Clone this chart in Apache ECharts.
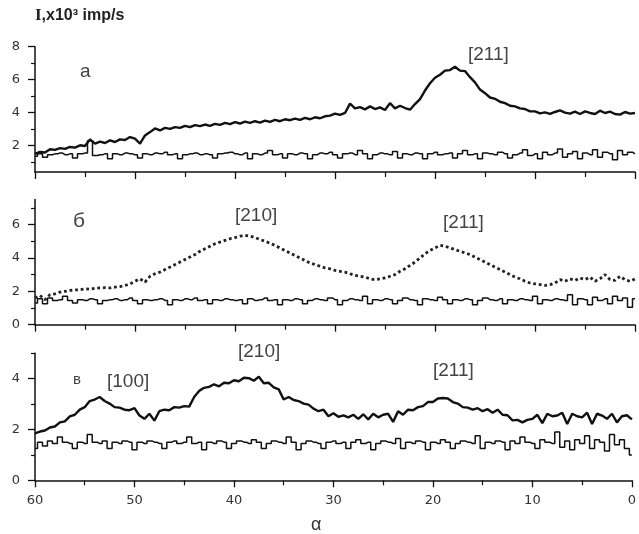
<!DOCTYPE html>
<html>
<head>
<meta charset="utf-8">
<script src="https://cdn.jsdelivr.net/npm/echarts@6/dist/echarts.min.js"></script>
<style>html,body{margin:0;padding:0;background:#fff}#c{width:639px;height:534px}</style>
</head>
<body>
<div id="c"></div>
<script>
// sampling grid of the scan angle alpha (degrees), 60 -> 0 in 0.5 steps
const alphaStart = 60, alphaStep = 0.5;

// panel a
const aTop = [
1.50,1.62,1.58,1.78,1.74,1.85,1.80,1.92,1.88,2.02,
1.98,2.38,2.12,2.24,2.16,2.32,2.22,2.38,2.34,2.52,
2.42,2.12,2.62,2.82,3.04,2.92,3.08,3.02,3.12,3.08,
3.20,3.12,3.24,3.18,3.28,3.20,3.32,3.26,3.38,3.30,
3.42,3.34,3.46,3.38,3.48,3.40,3.52,3.44,3.56,3.48,
3.60,3.54,3.64,3.56,3.68,3.60,3.72,3.66,3.78,3.82,
3.94,3.86,3.98,4.55,4.26,4.34,4.20,4.38,4.22,4.32,
4.16,4.58,4.26,4.42,4.28,4.18,4.52,4.82,5.34,5.78,
6.12,6.30,6.55,6.58,6.78,6.55,6.52,6.15,5.84,5.40,
5.18,4.92,4.84,4.66,4.58,4.42,4.38,4.26,4.22,4.08,
4.08,3.96,4.02,3.92,4.04,4.14,4.00,3.94,4.06,3.92,
4.08,3.98,3.92,4.12,3.98,4.06,3.92,3.88,4.04,3.94,
3.98];
const aBase = [
1.35,1.50,1.30,1.45,1.50,1.55,1.45,1.50,1.25,1.50,
1.55,2.30,1.40,1.45,1.50,1.20,1.50,1.45,1.55,1.50,
1.45,1.25,1.50,1.45,1.55,1.50,1.60,1.45,1.50,1.20,
1.45,1.50,1.55,1.45,1.50,1.45,1.25,1.50,1.55,1.60,
1.50,1.45,1.55,1.20,1.50,1.45,1.55,1.70,1.45,1.50,
1.25,1.50,1.45,1.55,1.50,1.20,1.45,1.55,1.50,1.60,
1.45,1.25,1.50,1.55,1.45,1.70,1.50,1.20,1.45,1.55,
1.50,1.45,1.65,1.25,1.50,1.45,1.55,1.50,1.20,1.50,
1.60,1.45,1.50,1.55,1.25,1.50,1.70,1.45,1.50,1.20,
1.55,1.50,1.45,1.60,1.50,1.25,1.45,1.55,1.75,1.40,
1.50,1.20,1.60,1.45,1.55,1.80,1.30,1.50,1.65,1.20,
1.55,1.45,1.75,1.30,1.60,1.50,1.15,1.70,1.45,1.60,
1.50];

// panel б
const bTop = [
1.60,1.75,1.50,1.80,1.85,1.95,2.00,2.05,2.08,2.10,
2.15,2.12,2.18,2.20,2.22,2.20,2.25,2.28,2.35,2.45,
2.60,2.75,2.55,2.90,3.05,3.15,3.30,3.45,3.60,3.75,
3.90,4.05,4.20,4.40,4.55,4.70,4.85,4.95,5.05,5.15,
5.22,5.30,5.35,5.30,5.22,5.10,5.00,4.88,4.75,4.60,
4.45,4.30,4.15,4.00,3.85,3.70,3.60,3.50,3.40,3.35,
3.25,3.20,3.15,3.05,2.95,2.90,2.85,2.75,2.70,2.75,
2.80,2.90,3.00,3.20,3.35,3.55,3.75,4.00,4.25,4.45,
4.60,4.75,4.70,4.60,4.50,4.40,4.30,4.20,4.05,3.90,
3.75,3.60,3.45,3.30,3.15,3.00,2.85,2.75,2.60,2.50,
2.45,2.40,2.35,2.40,2.50,2.70,2.60,2.75,2.65,2.80,
2.70,2.85,2.60,2.75,3.00,2.70,2.65,2.90,2.70,2.60,
2.75];
const bBase = [
1.30,1.55,1.25,1.60,1.45,1.50,1.70,1.45,1.30,1.50,
1.45,1.55,1.50,1.25,1.45,1.50,1.55,1.45,1.50,1.60,
1.45,1.25,1.50,1.45,1.50,1.55,1.45,1.20,1.50,1.45,
1.55,1.50,1.60,1.45,1.50,1.25,1.50,1.45,1.55,1.50,
1.45,1.50,1.25,1.55,1.45,1.50,1.60,1.45,1.50,1.20,
1.50,1.45,1.55,1.50,1.25,1.45,1.55,1.50,1.45,1.60,
1.50,1.20,1.45,1.55,1.50,1.45,1.70,1.25,1.50,1.45,
1.55,1.50,1.25,1.45,1.60,1.50,1.45,1.20,1.55,1.50,
1.45,1.65,1.50,1.25,1.50,1.45,1.55,1.50,1.20,1.45,
1.60,1.50,1.45,1.55,1.25,1.50,1.45,1.55,1.50,1.45,
1.70,1.25,1.50,1.45,1.55,1.50,1.45,1.80,1.20,1.55,
1.50,1.20,1.65,1.45,1.55,1.25,1.70,1.45,1.60,1.05,
1.55];

// panel в
const cTop = [
1.85,1.92,1.96,2.08,2.12,2.28,2.32,2.52,2.58,2.78,
2.88,3.12,3.18,3.28,3.12,3.02,2.88,2.86,2.78,2.76,
2.84,2.55,2.42,2.62,2.35,2.72,2.78,2.76,2.88,2.86,
2.92,2.90,3.28,3.52,3.64,3.68,3.78,3.70,3.84,3.82,
3.94,3.90,4.04,4.02,3.92,4.08,3.82,3.84,3.66,3.58,
3.18,3.28,3.16,3.12,3.02,2.98,2.82,2.72,2.78,2.52,
2.64,2.50,2.56,2.48,2.58,2.42,2.60,2.40,2.62,2.48,
2.58,2.62,2.30,2.72,2.58,2.78,2.76,2.88,2.92,3.08,
3.08,3.22,3.24,3.22,3.08,3.02,2.88,2.86,2.78,2.84,
2.72,2.80,2.66,2.78,2.58,2.56,2.36,2.38,2.28,2.38,
2.42,2.58,2.25,2.62,2.52,2.55,2.66,2.22,2.62,2.52,
2.48,2.66,2.22,2.62,2.55,2.42,2.62,2.28,2.52,2.56,
2.40];
const cBase = [
1.25,1.50,1.35,1.55,1.45,1.70,1.50,1.45,1.25,1.50,
1.45,1.80,1.50,1.45,1.55,1.25,1.50,1.45,1.55,1.50,
1.20,1.50,1.45,1.55,1.50,1.45,1.25,1.50,1.55,1.45,
1.50,1.70,1.45,1.50,1.20,1.50,1.45,1.55,1.50,1.25,
1.45,1.55,1.50,1.45,1.60,1.50,1.25,1.45,1.55,1.50,
1.45,1.70,1.50,1.20,1.45,1.55,1.50,1.45,1.25,1.50,
1.55,1.45,1.50,1.25,1.50,1.60,1.45,1.50,1.20,1.45,
1.55,1.50,1.45,1.65,1.25,1.50,1.45,1.55,1.50,1.20,
1.50,1.45,1.60,1.50,1.25,1.45,1.55,1.50,1.45,1.75,
1.25,1.50,1.45,1.55,1.50,1.20,1.55,1.45,1.70,1.50,
1.45,1.25,1.60,1.50,1.45,1.90,1.30,1.55,1.20,1.60,
1.45,1.75,1.25,1.60,1.50,1.15,1.80,1.40,1.60,1.25,
1.00];

// axis ticks
const xTicks = [60, 50, 40, 30, 20, 10, 0];
const yRanges = [[0.4, 8], [0, 7.5], [0, 5]];
const yMajor = [[2, 4, 6, 8], [0, 2, 4, 6], [0, 2, 4]];
const yMinor = [[1, 3, 5, 7], [1, 3, 5, 7], [1, 3, 5]];

// annotations
const panelLetters = ['a', 'б', 'в'];
const peakLabels = ['[211]', '[210]', '[211]', '[100]', '[210]', '[211]'];

function pairs(vals) {
  return vals.map((v, i) => [alphaStart - i * alphaStep, v]);
}

const panelGeom = [
  {left: 35, width: 600, top: 46.7, height: 125.3},
  {left: 35, width: 600, top: 199.5, height: 125.2},
  {left: 35, width: 600, top: 353.3, height: 127}
];
// grids 0-2: data + major ticks; grids 3-5: same boxes, carry the minor y ticks
const grids = panelGeom.concat(panelGeom.map(g => Object.assign({}, g)));

const font = 'DejaVu Sans';
const xAxes = [];
panelGeom.forEach((g, i) => {
  xAxes.push({
    type: 'value', gridIndex: i, position: 'bottom', min: 0, max: 60, interval: 10, inverse: true,
    axisLine: {show: true, onZero: false, lineStyle: {color: '#111', width: 1.5}},
    axisTick: {show: true, length: 7, lineStyle: {color: '#111', width: 1.3}},
    minorTick: {show: true, splitNumber: 2, length: 5, lineStyle: {color: '#111', width: 1.2}},
    axisLabel: {show: i === 2, margin: 14, color: '#333', fontFamily: font, fontSize: 13,
      customValues: xTicks},
    splitLine: {show: false}
  });
});
panelGeom.forEach((g, i) => {
  xAxes.push({type: 'value', gridIndex: 3 + i, position: 'bottom', min: 0, max: 60, inverse: true, show: false,
    axisLine: {onZero: false}});
});

const yAxes = [];
panelGeom.forEach((g, i) => {
  yAxes.push({
    type: 'value', gridIndex: i, position: 'left', min: yRanges[i][0], max: yRanges[i][1],
    axisLine: {show: true, onZero: false, lineStyle: {color: '#111', width: 1.5}},
    axisTick: {show: true, length: 7, customValues: yMajor[i], lineStyle: {color: '#111', width: 1.3}},
    axisLabel: {show: true, margin: 15, customValues: yMajor[i], color: '#333', fontFamily: font, fontSize: 13},
    splitLine: {show: false}
  });
});
panelGeom.forEach((g, i) => {
  yAxes.push({
    type: 'value', gridIndex: 3 + i, position: 'left', min: yRanges[i][0], max: yRanges[i][1],
    axisLine: {show: false, onZero: false},
    axisTick: {show: true, length: 4, customValues: yMinor[i], lineStyle: {color: '#111', width: 1.2}},
    axisLabel: {show: false},
    splitLine: {show: false}
  });
});

function lineSeries(data, gi, opts) {
  return Object.assign({
    type: 'line', xAxisIndex: gi, yAxisIndex: gi, data: pairs(data),
    showSymbol: false, symbol: 'none', silent: true, animation: false,
    lineStyle: {color: '#111', width: 2.2}
  }, opts || {});
}

const series = [
  lineSeries(aTop, 0, {lineStyle: {color: '#111', width: 2.4}}),
  lineSeries(aBase, 0, {step: 'middle', lineStyle: {color: '#111', width: 1.5}}),
  lineSeries(bTop, 1, {lineStyle: {color: '#222', width: 2.8, type: 'dotted'}}),
  lineSeries(bBase, 1, {step: 'middle', lineStyle: {color: '#111', width: 1.5}}),
  lineSeries(cTop, 2, {lineStyle: {color: '#111', width: 2.4}}),
  lineSeries(cBase, 2, {step: 'middle', lineStyle: {color: '#111', width: 1.5}})
];

function txt(x, y, s, size, extra) {
  return {type: 'text', left: x, top: y, silent: true,
    style: Object.assign({text: s, fill: '#444', font: size + 'px "Liberation Sans", Arial, sans-serif'}, extra || {})};
}

const graphic = [
  {type: 'text', left: 35, top: 7, silent: true, style: {
    text: '{s|I},x10³ imp/s', fill: '#222', font: 'bold 16px "Liberation Sans", Arial, sans-serif',
    rich: {s: {fontFamily: 'Liberation Serif', fontWeight: 'bold', fontSize: 17, fill: '#222'}}}},
  txt(80, 62, panelLetters[0], 19),
  txt(73, 211, panelLetters[1], 21),
  txt(73, 372, panelLetters[2], 15),
  txt(468, 45, peakLabels[0], 19),
  txt(235, 206, peakLabels[1], 19),
  txt(443, 213, peakLabels[2], 19),
  txt(107, 372, peakLabels[3], 19),
  txt(238, 342, peakLabels[4], 19),
  txt(433, 361, peakLabels[5], 19),
  txt(311, 516, 'α', 18, {fill: '#333'})
];

const chart = echarts.init(document.getElementById('c'), null, {renderer: 'canvas'});
chart.setOption({
  animation: false,
  backgroundColor: '#fff',
  grid: grids,
  xAxis: xAxes,
  yAxis: yAxes,
  series: series,
  graphic: graphic
});
</script>
</body>
</html>
